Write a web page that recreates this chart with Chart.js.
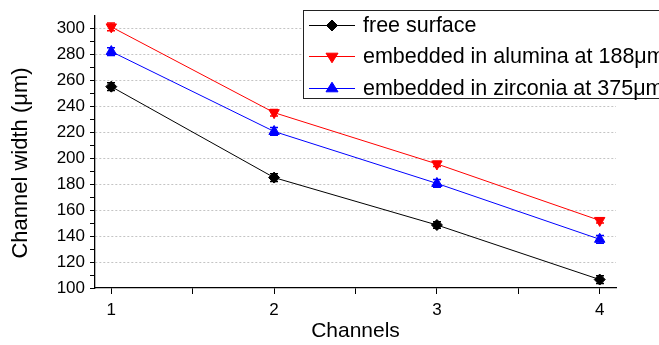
<!DOCTYPE html>
<html><head><meta charset="utf-8">
<script src="https://cdn.jsdelivr.net/npm/chart.js@4/dist/chart.umd.min.js"></script>
<style>html,body{margin:0;padding:0;background:#fff}#wrap{width:659px;height:345px;position:relative}</style>
</head><body><div id="wrap"><canvas id="c" width="659" height="345"></canvas></div>
<script>
const channels = [1, 2, 3, 4];
const freeSurface = [255, 185, 148.5, 106.5];
const alumina = [301, 235, 195.5, 152];
const zirconia = [282, 220.5, 180.5, 137.5];
const freeErr = [3, 3, 2.5, 3];
const aluminaErr = [3, 2.5, 2, 2];
const zirconiaErr = [3, 3, 3, 3];
const seriesNames = ['free surface', 'embedded in alumina at 188\u03bcm', 'embedded in zirconia at 375\u03bcm'];
const xTickValues = [1, 1.5, 2, 2.5, 3, 3.5, 4];
const yTickValues = [100, 110, 120, 130, 140, 150, 160, 170, 180, 190, 200, 210, 220, 230, 240, 250, 260, 270, 280, 290, 300];
const xTitle = 'Channels';
const yTitle = 'Channel width (\u03bcm)';

const FONT = "'Liberation Sans', Arial, sans-serif";
const styles = [
  {color: '#000000', pointStyle: 'rectRot', rotation: 0, radius: 5.5},
  {color: '#ff0000', pointStyle: 'triangle', rotation: 180, radius: 6},
  {color: '#0000ff', pointStyle: 'triangle', rotation: 0, radius: 6}
];
const values = [freeSurface, alumina, zirconia];
const errors = [freeErr, aluminaErr, zirconiaErr];

const datasets = values.map((vals, k) => ({
  label: seriesNames[k],
  data: channels.map((c, i) => ({x: c, y: vals[i]})),
  borderColor: styles[k].color,
  backgroundColor: styles[k].color,
  borderWidth: 1,
  pointStyle: styles[k].pointStyle,
  rotation: styles[k].rotation,
  pointRadius: styles[k].radius,
  pointBorderWidth: 1,
  tension: 0
}));

function drawMarker(ctx, st, x, y) {
  ctx.save();
  ctx.fillStyle = st.color; ctx.strokeStyle = st.color; ctx.lineWidth = 1;
  ctx.beginPath();
  const r = st.radius;
  if (st.pointStyle === 'rectRot') {
    ctx.moveTo(x, y - r); ctx.lineTo(x + r, y); ctx.lineTo(x, y + r); ctx.lineTo(x - r, y);
  } else if (st.rotation === 180) {
    ctx.moveTo(x - r, y - r * 0.55); ctx.lineTo(x + r, y - r * 0.55); ctx.lineTo(x, y + r * 1.05);
  } else {
    ctx.moveTo(x - r, y + r * 0.55); ctx.lineTo(x + r, y + r * 0.55); ctx.lineTo(x, y - r * 1.05);
  }
  ctx.closePath(); ctx.fill(); ctx.stroke();
  ctx.restore();
}

const errorBars = {
  id: 'errorBars',
  afterDatasetsDraw(chart) {
    const ctx = chart.ctx, xs = chart.scales.x, ys = chart.scales.y;
    values.forEach((vals, k) => {
      ctx.save();
      ctx.strokeStyle = styles[k].color; ctx.lineWidth = 1.5;
      vals.forEach((v, i) => {
        const px = Math.round(xs.getPixelForValue(channels[i]));
        const top = ys.getPixelForValue(v + errors[k][i]);
        const bot = ys.getPixelForValue(v - errors[k][i]);
        ctx.beginPath();
        ctx.moveTo(px, top); ctx.lineTo(px, bot);
        ctx.moveTo(px - 4, top); ctx.lineTo(px + 4, top);
        ctx.moveTo(px - 4, bot); ctx.lineTo(px + 4, bot);
        ctx.stroke();
      });
      ctx.restore();
    });
  }
};

const boxLegend = {
  id: 'boxLegend',
  afterDraw(chart) {
    const ctx = chart.ctx;
    ctx.save();
    // y axis title
    ctx.save();
    ctx.translate(21, 163);
    ctx.rotate(-Math.PI / 2);
    ctx.fillStyle = '#000'; ctx.font = '22px ' + FONT;
    ctx.textAlign = 'center'; ctx.textBaseline = 'middle';
    ctx.fillText(yTitle, 0, 0);
    ctx.restore();
    // legend
    ctx.fillStyle = '#ffffff';
    ctx.fillRect(303.5, 10.5, 400, 88);
    ctx.strokeStyle = '#222222'; ctx.lineWidth = 1;
    ctx.strokeRect(303.5, 10.5, 400, 88);
    const rows = [25, 56, 88];
    seriesNames.forEach((name, k) => {
      const y = rows[k];
      ctx.strokeStyle = styles[k].color; ctx.lineWidth = 1;
      ctx.beginPath(); ctx.moveTo(309, y + 0.5); ctx.lineTo(355, y + 0.5); ctx.stroke();
      drawMarker(ctx, styles[k], 332, y + 0.5);
      ctx.fillStyle = '#000'; ctx.font = '21.5px ' + FONT;
      ctx.textBaseline = 'middle'; ctx.textAlign = 'left';
      ctx.fillText(name, 363, y + 1);
    });
    ctx.restore();
  }
};

new Chart(document.getElementById('c'), {
  type: 'line',
  data: {datasets},
  plugins: [errorBars, boxLegend],
  options: {
    responsive: false,
    animation: false,
    devicePixelRatio: 1,
    layout: {padding: {left: 0, top: 8, right: 43, bottom: 0}},
    plugins: {legend: {display: false}, tooltip: {enabled: false}},
    scales: {
      x: {
        type: 'linear', min: 0.9, max: 4.1,
        afterFit(s) { s.height = 57; },
        afterBuildTicks(s) { s.ticks = xTickValues.map(v => ({value: v})); },
        grid: {drawOnChartArea: false, drawTicks: true, tickLength: 6, tickColor: '#000', tickWidth: 1},
        border: {display: true, color: '#000', width: 1.3},
        ticks: {
          padding: 6, color: '#000', font: {family: FONT, size: 17},
          maxRotation: 0, autoSkip: false,
          callback: v => Number.isInteger(v) ? String(v) : ''
        },
        title: {display: true, text: xTitle, color: '#000', font: {family: FONT, size: 21}, padding: {top: 0, bottom: 1}}
      },
      y: {
        type: 'linear', min: 100, max: 310,
        afterFit(s) { s.width = 95; },
        afterBuildTicks(s) { s.ticks = yTickValues.map(v => ({value: v})); },
        grid: {
          drawOnChartArea: true, drawTicks: true, tickLength: 5, tickWidth: 1,
          tickColor: '#000', tickBorderDash: [1, 0],
          color: c => (c.tick && c.tick.value % 20 === 0 && c.tick.value > 100) ? '#c4c4c4' : 'rgba(0,0,0,0)',
          lineWidth: 1
        },
        border: {display: true, color: '#000', width: 1.3, dash: [2, 2]},
        ticks: {
          padding: 5, color: '#000', font: {family: FONT, size: 17}, autoSkip: false,
          callback: v => (v % 20 === 0) ? String(v) : ''
        },
        title: {display: false}
      }
    }
  }
});
</script></body></html>
